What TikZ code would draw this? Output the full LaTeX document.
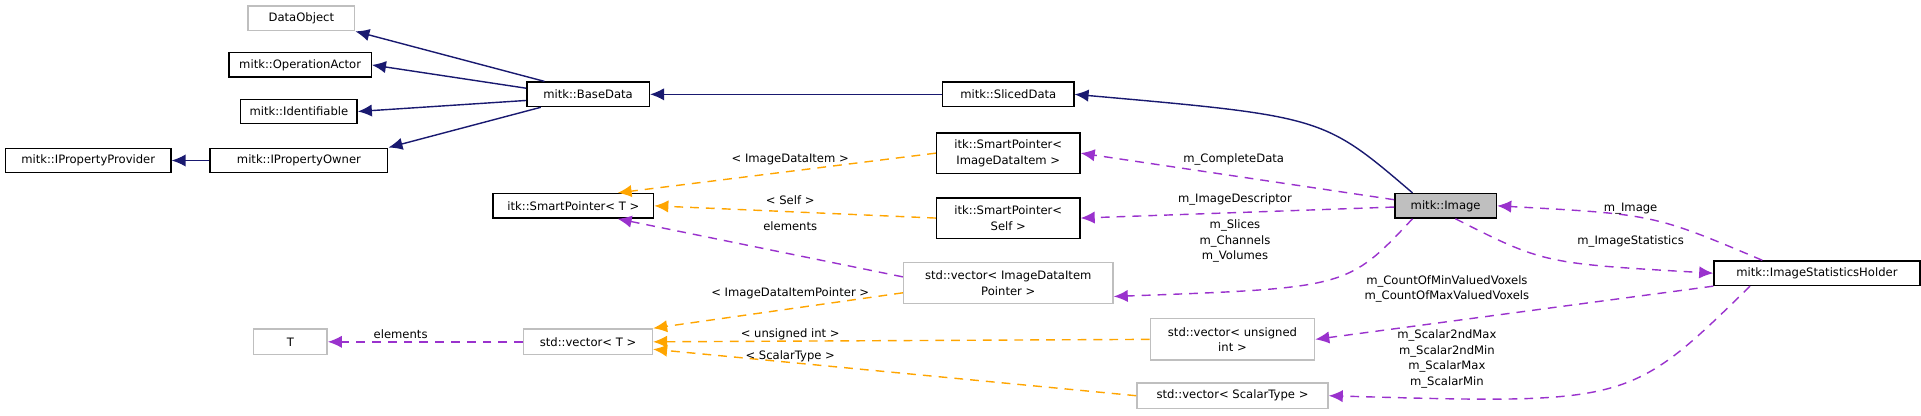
\documentclass[tikz,border=0pt]{standalone}
\usepackage{fontspec}
\setmainfont{DejaVu Sans}
\usetikzlibrary{arrows.meta,positioning}
\definecolor{inhcol}{HTML}{191970}
\definecolor{usecol}{HTML}{9A32CD}
\definecolor{tplcol}{HTML}{FFA500}
\definecolor{grayline}{HTML}{BFBFBF}

\tikzset{
  wd/.style={minimum width=#1*0.01225cm},
  ht/.style={minimum height=#1*0.01225cm},
  cls/.style={draw=black, line width=0.4pt, inner sep=0pt, align=center, ht=20},
  ext/.style={cls, draw=grayline},
  inh/.style={draw=inhcol, line width=0.4pt, -{Latex[length=4pt,width=3.5pt]}},
  usg/.style={draw=usecol, line width=0.4pt, dash pattern=on 2.5pt off 2pt, -{Latex[length=4pt,width=3.5pt]}},
  tpl/.style={draw=tplcol, line width=0.4pt, dash pattern=on 2.5pt off 2pt, -{Latex[length=4pt,width=3.5pt]}},
  lbl/.style={inner sep=0pt, align=center}
}

\begin{document}
\begin{tikzpicture}[x=0.01225cm, y=-0.01225cm, font=\fontsize{3.3}{4.4}\selectfont]
  \useasboundingbox (0,0) rectangle (1568,339);

  % classes
  \node[ext, wd=87] (dataobject) at (246,15) {DataObject};
  \node[cls, wd=116] (opactor) at (245,53) {mitk::OperationActor};
  \node[cls, wd=95] (identifiable) at (244,91) {mitk::Identifiable};
  \node[cls, wd=135] (propprovider) at (72,131) {mitk::IPropertyProvider};
  \node[cls, wd=145] (propowner) at (244,131) {mitk::IPropertyOwner};
  \node[cls, wd=100] (basedata) at (480,77) {mitk::BaseData};
  \node[cls, wd=107] (sliceddata) at (823,77) {mitk::SlicedData};
  \node[cls, wd=117, ht=33] (spitem) at (823,125) {itk::SmartPointer\textless\\ImageDataItem \textgreater};
  \node[cls, wd=117, ht=33] (spself) at (823,178) {itk::SmartPointer\textless\\Self \textgreater};
  \node[cls, wd=131] (spt) at (468,168) {itk::SmartPointer\textless{} T \textgreater};
  \node[cls, fill=grayline, wd=83] (image) at (1180,168) {mitk::Image};
  \node[cls, wd=168] (holder) at (1483,223) {mitk::ImageStatisticsHolder};
  \node[ext, wd=171, ht=33] (vecitem) at (823,231) {std::vector\textless{} ImageDataItem\\Pointer \textgreater};
  \node[ext, wd=134, ht=34] (vecuint) at (1006,277) {std::vector\textless{} unsigned\\int \textgreater};
  \node[ext, wd=156, ht=21] (vecscalar) at (1006,323) {std::vector\textless{} ScalarType \textgreater};
  \node[ext, wd=105, ht=21] (vect) at (480,279) {std::vector\textless{} T \textgreater};
  \node[ext, wd=60, ht=21] (tparam) at (237,279) {T};

  % inheritance
  \draw[inh] (basedata.north west) ++(15,0) -- (dataobject.south east);
  \draw[inh] (basedata.west) ++(0,-5) -- (opactor.east);
  \draw[inh] (basedata.west) ++(0,5) -- (identifiable.east);
  \draw[inh] (basedata.south west) ++(12,0) -- (propowner.north east);
  \draw[inh] (propowner) -- (propprovider);
  \draw[inh] (sliceddata) -- (basedata);
  \draw[inh] (image.north west) ++(15,0) .. controls (1080,95) .. (sliceddata.east);

  % usage
  \draw[usg] (image.west) ++(0,-5) -- (spitem.east);
  \node[lbl] (completelbl) at (1007,130) {m\_CompleteData};
  \draw[usg] (image.west) ++(0,1) -- (spself.east);
  \node[lbl] (desclbl) at (1008,163) {m\_ImageDescriptor};
  \draw[usg] (image.south west) ++(15,0) .. controls (1100,235) .. (vecitem.east |- 0,242);
  \node[lbl] (slicelbl) at (1008,197) {m\_Slices\\m\_Channels\\m\_Volumes};
  \draw[usg] (image.south) ++(8,0) .. controls (1260,215) .. (holder.west);
  \node[lbl] (statlbl) at (1331,197) {m\_ImageStatistics};
  \draw[usg] (holder.north west) ++(40,0) .. controls (1350,175) .. (image.east);
  \node[lbl] (imagelbl) at (1331,170) {m\_Image};
  \draw[usg] (holder.south west) -- (vecuint.east);
  \node[lbl] (countlbl) at (1181,236) {m\_CountOfMinValuedVoxels\\m\_CountOfMaxValuedVoxels};
  \draw[usg] (holder.south west) ++(30,0) .. controls (1330,330) .. (vecscalar.east);
  \node[lbl] (scalarlbl) at (1181,293) {m\_Scalar2ndMax\\m\_Scalar2ndMin\\m\_ScalarMax\\m\_ScalarMin};
  \draw[usg] (vecitem.west) ++(0,-5) -- ([xshift=-30*0.01225cm]spt.south east);
  \node[lbl] (elemlbl) at (645,185) {elements};
  \draw[usg] (vect) -- (tparam);
  \node[lbl] (elemlbl2) at (327,273) {elements};

  % templates
  \draw[tpl] (spitem.west) -- ([xshift=-30*0.01225cm]spt.north east);
  \node[lbl] (itemlbl) at (645,130) {\textless{} ImageDataItem \textgreater};
  \draw[tpl] (spself.west) -- (spt.east);
  \node[lbl] (selflbl) at (645,163) {\textless{} Self \textgreater};
  \draw[tpl] (vecitem.west) ++(0,8) -- (vect.north east);
  \node[lbl] (ptrlbl) at (645,239) {\textless{} ImageDataItemPointer \textgreater};
  \draw[tpl] (vecuint.west) -- (vect.east);
  \node[lbl] (uintlbl) at (645,273) {\textless{} unsigned int \textgreater};
  \draw[tpl] (vecscalar.west) -- ([yshift=5*0.01225cm]vect.south east);
  \node[lbl] (scalartlbl) at (645,291) {\textless{} ScalarType \textgreater};
\end{tikzpicture}
\end{document}
